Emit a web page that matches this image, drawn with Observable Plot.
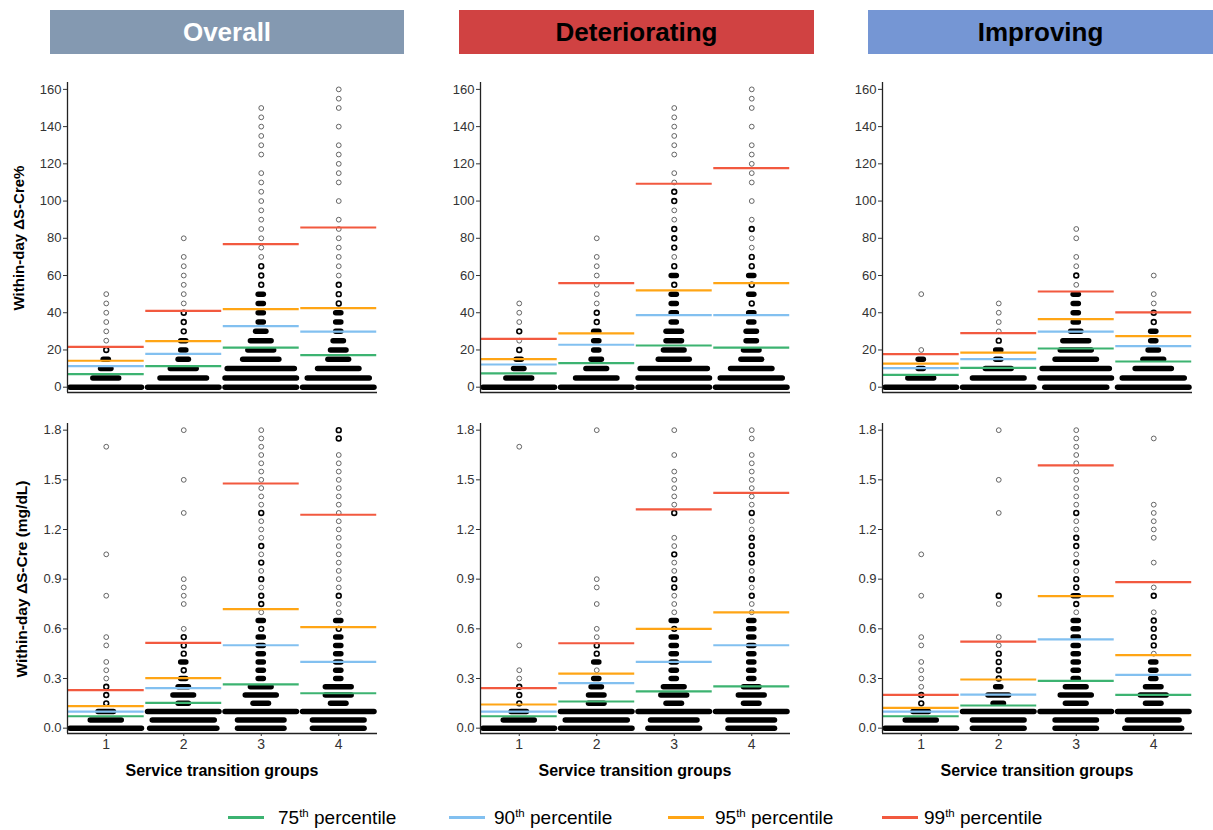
<!DOCTYPE html>
<html><head><meta charset="utf-8">
<script src="https://cdn.jsdelivr.net/npm/d3@7"></script>
<script src="https://cdn.jsdelivr.net/npm/@observablehq/plot@0.6"></script>
<style>
body{margin:0;background:#fff;font-family:"Liberation Sans",Arial,sans-serif;}
#root{position:relative;width:1213px;height:830px;overflow:hidden;background:#fff;}
.hdr{position:absolute;top:10px;height:44px;line-height:44px;text-align:center;font-weight:bold;font-size:26px;}
.panel{position:absolute;}
.ytitle{position:absolute;font-weight:bold;white-space:nowrap;color:#000;transform:translate(-50%,-50%) rotate(-90deg);}
.xtitle{position:absolute;font-weight:bold;font-size:16px;white-space:nowrap;color:#000;transform:translate(-50%,-50%);}
.legline{position:absolute;height:2.5px;width:36px;}
.legtext{position:absolute;font-size:19px;color:#000;white-space:nowrap;transform:translateY(-50%);}
.legtext sup{font-size:11.5px;}
</style></head>
<body><div id="root"></div>
<script>
// ---------- data ----------
const groups = [1, 2, 3, 4];
const panelTitles = ["Overall", "Deteriorating", "Improving"];
const yTitles = ["Within-day ΔS-Cre%", "Within-day ΔS-Cre (mg/dL)"];
const xTitle = "Service transition groups";
const pctNames = ["75th", "90th", "95th", "99th"];
const pctColors = ["#3cb371", "#82c0f0", "#ffa515", "#f2593f"];
const pctTicks = [0, 20, 40, 60, 80, 100, 120, 140, 160];
const mgTicks = [0, 0.3, 0.6, 0.9, 1.2, 1.5, 1.8];

// each group: [value, dots across the stack]
const overallPct = [
  [[0,16],[5,7],[10,4],[15,3],[20,2],[25,1],[30,1],[35,1],[40,1],[45,1],[50,1]],
  [[0,16],[5,11],[10,7],[15,4],[20,3],[25,3],[30,2],[35,2],[40,2],[45,1],[50,1],[55,1],[60,1],[65,1],[70,1],[80,1]],
  [[0,16],[5,16],[10,15],[15,9],[20,7],[25,6],[30,4],[35,3],[40,3],[45,3],[50,3],[55,2],[60,2],[65,2],[70,1],[75,1],[80,1],[85,1],[90,1],[95,1],[100,1],[105,1],[110,1],[115,1],[125,1],[130,1],[135,1],[140,1],[145,1],[150,1]],
  [[0,16],[5,14],[10,10],[15,6],[20,5],[25,4],[30,3],[35,3],[40,3],[45,2],[50,2],[55,2],[60,1],[65,1],[70,1],[75,1],[80,1],[85,1],[90,1],[100,1],[110,1],[115,1],[120,1],[125,1],[130,1],[140,1],[150,1],[155,1],[160,1]]
];
const overallPctQ = [[7.0,11.3,14.2,21.7],[11.3,17.9,24.7,41.0],[21.3,32.8,41.9,76.9],[17.2,29.9,42.5,85.8]];

const deterPct = [
  [[0,16],[5,7],[10,4],[15,3],[20,2],[25,1],[30,2],[35,1],[40,1],[45,1]],
  [[0,16],[5,10],[10,6],[15,4],[20,3],[25,3],[30,3],[35,2],[40,2],[45,1],[50,1],[55,1],[60,1],[65,1],[70,1],[80,1]],
  [[0,16],[5,16],[10,15],[15,8],[20,6],[25,5],[30,5],[35,3],[40,3],[45,3],[50,3],[55,2],[60,3],[65,2],[70,1],[75,2],[80,2],[85,2],[90,1],[95,1],[100,2],[105,2],[110,1],[115,1],[125,1],[130,1],[135,1],[140,1],[145,1],[150,1]],
  [[0,16],[5,14],[10,10],[15,6],[20,5],[25,4],[30,4],[35,3],[40,3],[45,2],[50,3],[55,2],[60,3],[65,2],[70,2],[75,1],[80,1],[85,2],[90,1],[100,1],[110,1],[115,1],[120,1],[125,1],[130,1],[140,1],[150,1],[155,1],[160,1]]
];
const deterPctQ = [[7.4,12.2,15.1,26.0],[12.9,22.8,28.9,55.9],[22.4,38.7,52.0,109.3],[21.3,38.7,55.9,117.7]];

const improvPct = [
  [[0,16],[5,7],[10,3],[15,3],[20,1],[50,1]],
  [[0,16],[5,12],[10,7],[15,3],[20,3],[25,2],[30,1],[35,1],[40,1],[45,1]],
  [[0,14],[5,16],[10,15],[15,10],[20,8],[25,7],[30,4],[35,3],[40,3],[45,3],[50,3],[55,1],[60,2],[65,1],[70,1],[80,1],[85,1]],
  [[0,16],[5,14],[10,9],[15,6],[20,4],[25,3],[30,3],[35,2],[40,2],[45,1],[50,1],[60,1]]
];
const improvPctQ = [[6.6,10.2,12.7,17.8],[10.4,15.1,18.6,29.0],[20.8,29.9,36.6,51.4],[13.8,22.1,27.4,40.2]];

const overallMg = [
  [[0,16],[0.05,8],[0.1,5],[0.15,2],[0.2,2],[0.25,2],[0.3,1],[0.35,1],[0.4,1],[0.5,1],[0.55,1],[0.8,1],[1.05,1],[1.7,1]],
  [[0,15],[0.05,14],[0.1,16],[0.15,4],[0.2,6],[0.25,4],[0.3,3],[0.35,2],[0.4,3],[0.45,2],[0.5,2],[0.55,2],[0.6,1],[0.75,1],[0.8,1],[0.85,1],[0.9,1],[1.3,1],[1.5,1],[1.8,1]],
  [[0,11],[0.05,11],[0.1,16],[0.15,5],[0.2,8],[0.25,6],[0.3,3],[0.35,3],[0.4,3],[0.45,3],[0.5,3],[0.55,3],[0.6,2],[0.65,3],[0.7,1],[0.75,2],[0.8,2],[0.85,1],[0.9,2],[0.95,1],[1.0,2],[1.05,1],[1.1,2],[1.15,1],[1.2,1],[1.25,1],[1.3,2],[1.35,1],[1.4,1],[1.45,1],[1.5,1],[1.55,1],[1.6,1],[1.65,1],[1.7,1],[1.75,1],[1.8,1]],
  [[0,12],[0.05,12],[0.1,16],[0.15,5],[0.2,7],[0.25,7],[0.3,3],[0.35,3],[0.4,3],[0.45,3],[0.5,3],[0.55,3],[0.6,2],[0.65,3],[0.7,1],[0.75,1],[0.8,2],[0.85,1],[0.9,1],[0.95,1],[1.0,1],[1.05,1],[1.1,1],[1.15,1],[1.2,1],[1.25,1],[1.3,1],[1.35,1],[1.4,1],[1.45,1],[1.5,1],[1.55,1],[1.6,1],[1.65,1],[1.75,2],[1.8,2]]
];
const overallMgQ = [[0.072,0.10,0.133,0.23],[0.153,0.242,0.302,0.515],[0.264,0.501,0.719,1.478],[0.211,0.40,0.61,1.289]];

const deterMg = [
  [[0,16],[0.05,8],[0.1,5],[0.15,2],[0.2,2],[0.25,2],[0.3,1],[0.35,1],[0.5,1],[1.7,1]],
  [[0,16],[0.05,14],[0.1,16],[0.15,5],[0.2,5],[0.25,4],[0.3,3],[0.35,1],[0.4,3],[0.45,2],[0.5,2],[0.55,1],[0.6,1],[0.75,1],[0.85,1],[0.9,1],[1.8,1]],
  [[0,12],[0.05,11],[0.1,16],[0.15,5],[0.2,7],[0.25,6],[0.3,3],[0.35,3],[0.4,3],[0.45,3],[0.5,3],[0.55,3],[0.6,2],[0.65,3],[0.7,1],[0.75,1],[0.8,1],[0.85,2],[0.9,2],[0.95,1],[1.0,1],[1.05,2],[1.1,1],[1.15,1],[1.3,2],[1.35,1],[1.4,1],[1.45,1],[1.5,1],[1.55,1],[1.65,1],[1.8,1]],
  [[0,11],[0.05,11],[0.1,16],[0.15,5],[0.2,7],[0.25,5],[0.3,3],[0.35,3],[0.4,3],[0.45,3],[0.5,3],[0.55,3],[0.6,3],[0.65,3],[0.7,1],[0.75,1],[0.8,2],[0.85,1],[0.9,2],[0.95,1],[1.0,2],[1.05,2],[1.1,2],[1.15,2],[1.2,1],[1.25,1],[1.3,2],[1.35,1],[1.4,1],[1.45,1],[1.5,1],[1.55,1],[1.6,1],[1.65,1],[1.75,1],[1.8,1]]
];
const deterMgQ = [[0.072,0.10,0.143,0.242],[0.161,0.272,0.33,0.513],[0.222,0.40,0.60,1.321],[0.252,0.501,0.70,1.421]];

const improvMg = [
  [[0,16],[0.05,8],[0.1,5],[0.15,2],[0.2,2],[0.25,1],[0.3,1],[0.35,1],[0.4,1],[0.5,1],[0.55,1],[0.8,1],[1.05,1]],
  [[0,12],[0.05,12],[0.1,16],[0.15,4],[0.2,6],[0.25,3],[0.3,2],[0.35,2],[0.4,2],[0.45,2],[0.5,1],[0.55,1],[0.75,1],[0.8,2],[1.3,1],[1.5,1],[1.8,1]],
  [[0,10],[0.05,10],[0.1,16],[0.15,6],[0.2,8],[0.25,6],[0.3,3],[0.35,3],[0.4,3],[0.45,3],[0.5,3],[0.55,3],[0.6,3],[0.65,3],[0.7,1],[0.75,2],[0.8,3],[0.85,2],[0.9,2],[0.95,1],[1.0,2],[1.05,1],[1.1,2],[1.15,2],[1.2,1],[1.25,1],[1.3,2],[1.35,1],[1.4,1],[1.45,1],[1.5,1],[1.55,1],[1.6,1],[1.65,1],[1.7,1],[1.75,1],[1.8,1]],
  [[0,13],[0.05,12],[0.1,16],[0.15,5],[0.2,7],[0.25,5],[0.3,3],[0.35,3],[0.4,3],[0.45,1],[0.5,2],[0.55,2],[0.6,2],[0.65,2],[0.7,1],[0.8,2],[0.85,1],[1.0,1],[1.15,1],[1.2,1],[1.25,1],[1.3,1],[1.35,1],[1.75,1]]
];
const improvMgQ = [[0.072,0.10,0.123,0.201],[0.137,0.203,0.294,0.523],[0.286,0.536,0.797,1.587],[0.201,0.322,0.441,0.882]];

// ---------- layout ----------
const root = document.getElementById("root");
const headerStyles = [
  {left: 50, width: 354, bg: "#8499b1", fg: "#fff"},
  {left: 459, width: 355, bg: "#d04242", fg: "#000"},
  {left: 868, width: 345, bg: "#7596d4", fg: "#000"}
];
panelTitles.forEach((t, i) => {
  const h = document.createElement("div");
  h.className = "hdr";
  const s = headerStyles[i];
  h.style.left = s.left + "px"; h.style.width = s.width + "px";
  h.style.background = s.bg; h.style.color = s.fg;
  h.textContent = t;
  root.appendChild(h);
});

const axisXs = [67, 480, 882];
const ML = 45, PW = 310, MR = 5;
const rows = [
  {top: 77, mt: 5, mb: 5, domain: [-2.85, 163.7], ticks: pctTicks, fmt: d3.format("d"), data: [overallPct, deterPct, improvPct], q: [overallPctQ, deterPctQ, improvPctQ], xaxis: false, ytx: 18, yty: 238, yfs: 15},
  {top: 418, mt: 5, mb: 25, domain: [-0.0322, 1.8403], ticks: mgTicks, fmt: d3.format(".1f"), data: [overallMg, deterMg, improvMg], q: [overallMgQ, deterMgQ, improvMgQ], xaxis: true, ytx: 22, yty: 579, yfs: 15.5}
];

const hw = n => Math.min((n - 2) / 30, 0.461);

rows.forEach((r, ri) => {
  r.data.forEach((panel, ci) => {
    const pts = panel.flatMap((g, gi) => g.map(([v, n]) => ({g: groups[gi], v, n})));
    const qs = r.q[ci].flatMap((arr, gi) => arr.map((v, j) => ({g: groups[gi], v, p: pctNames[j]})));
    const marks = [
      Plot.ruleY(pts.filter(d => d.n >= 3), {y: "v", x1: d => d.g - hw(d.n), x2: d => d.g + hw(d.n), stroke: "#000", strokeWidth: 5.5, strokeLinecap: "round"}),
      Plot.dot(pts.filter(d => d.n === 2), {x: "g", y: "v", r: 2.4, stroke: "#000", strokeWidth: 1.6, fill: "none"}),
      Plot.dot(pts.filter(d => d.n === 1), {x: "g", y: "v", r: 2.4, stroke: "#555", strokeWidth: 0.9, fill: "#fff"}),
      Plot.ruleY(qs, {y: "v", x1: d => d.g - 0.49, x2: d => d.g + 0.49, stroke: "p", strokeWidth: 2.2}),
      Plot.ruleX([0.5], {stroke: "#222", strokeWidth: 1.3}),
      Plot.ruleY([r.domain[0]], {stroke: "#222", strokeWidth: 1.3}),
      Plot.axisY({ticks: r.ticks, tickFormat: r.fmt, tickSize: 4, tickPadding: 2, fontSize: 13, label: null})
    ];
    if (r.xaxis) marks.push(Plot.axisX({ticks: groups, tickFormat: d3.format("d"), tickSize: 3, tickPadding: 3, fontSize: 14, label: null}));
    const chart = Plot.plot({
      width: ML + PW + MR,
      height: r.mt + 310 + r.mb,
      marginLeft: ML, marginRight: MR, marginTop: r.mt, marginBottom: r.mb,
      style: {fontFamily: "'Liberation Sans', Arial, sans-serif", color: "#333", background: "transparent", overflow: "visible"},
      x: {domain: [0.5, 4.5], axis: r.xaxis ? undefined : null},
      y: {domain: r.domain},
      color: {domain: pctNames, range: pctColors},
      marks
    });
    chart.classList.add("panel");
    chart.style.left = (axisXs[ci] - ML) + "px";
    chart.style.top = r.top + "px";
    root.appendChild(chart);

    if (r.xaxis) {
      const xt = document.createElement("div");
      xt.className = "xtitle";
      xt.style.left = (axisXs[ci] + PW / 2) + "px";
      xt.style.top = "771px";
      xt.textContent = xTitle;
      root.appendChild(xt);
    }
  });
  const yt = document.createElement("div");
  yt.className = "ytitle";
  yt.style.left = r.ytx + "px";
  yt.style.top = r.yty + "px";
  yt.style.fontSize = r.yfs + "px";
  yt.textContent = yTitles[ri];
  root.appendChild(yt);
});

// ---------- legend ----------
const legLineX = [228, 449, 668, 882];
const legTextX = [278, 494, 715, 924];
pctNames.forEach((p, i) => {
  const l = document.createElement("div");
  l.className = "legline";
  l.style.left = legLineX[i] + "px"; l.style.top = "816px"; l.style.background = pctColors[i];
  root.appendChild(l);
  const t = document.createElement("div");
  t.className = "legtext";
  t.style.left = legTextX[i] + "px"; t.style.top = "818px";
  t.innerHTML = p.replace("th", "<sup>th</sup>") + " percentile";
  root.appendChild(t);
});
</script>
</body></html>
